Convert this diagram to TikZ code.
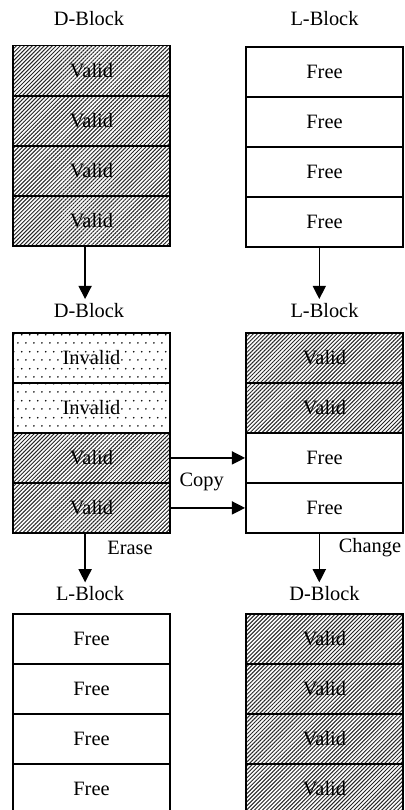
\documentclass[tikz,border=0pt]{standalone}
\usepackage{fontspec}
\setmainfont{Liberation Serif}
\usetikzlibrary{patterns.meta,arrows.meta}
\pgfdeclarepattern{
	name=sparsedots, type=uncolored,
	bottom left={\pgfpoint{0pt}{0pt}}, top right={\pgfpoint{5.9pt}{11.8pt}},
	tile size={\pgfpoint{5.9pt}{11.8pt}},
	code={
		\pgfpathcircle{\pgfpoint{1.475pt}{1.475pt}}{0.65pt}
		\pgfpathcircle{\pgfpoint{4.425pt}{7.375pt}}{0.65pt}
		\pgfusepath{fill}
	}
}
\tikzset{
	cell/.style={draw, line width=1.3pt, minimum width=3.925cm, minimum height=1.25cm, anchor=north, inner sep=0pt},
	validcell/.style={cell, pattern={Lines[angle=45,distance=2pt,line width=0.7pt]}, pattern color=black!85},
	invalidcell/.style={cell, pattern=sparsedots, pattern color=black},
	freecell/.style={cell, fill=white},
	blocklabel/.style={inner sep=3pt},
	flow/.style={-{Triangle[length=3.3mm,width=3.3mm]}, line width=0.9pt}
}
\begin{document}
\begin{tikzpicture}[x=0.025cm, y=-0.025cm, font=\fontsize{14.5}{17}\selectfont]
	\useasboundingbox (0,0) rectangle (404,810);
	% block titles
	\node[blocklabel] (A0) at (89,19) {D-Block};
	\node[blocklabel] (B0) at (324.5,19) {L-Block};
	\node[blocklabel] (C0) at (89,310.7) {D-Block};
	\node[blocklabel] (D0) at (324.5,310.7) {L-Block};
	\node[blocklabel] (E0) at (90,594) {L-Block};
	\node[blocklabel] (F0) at (324.5,594) {D-Block};
	% pages
	\foreach \i in {1,...,4}{
		\node[validcell] (A\i) at (91.5,{45+50*(\i-1)}) {Valid};
		\node[freecell] (B\i) at (324.5,{46+50*(\i-1)}) {Free};
		\node[freecell] (E\i) at (91.5,{613+50*(\i-1)}) {Free};
		\node[validcell] (F\i) at (324.5,{613+50*(\i-1)}) {Valid};
	}
	\foreach \s/\t [count=\i] in {invalidcell/Invalid,invalidcell/Invalid,validcell/Valid,validcell/Valid}
		\node[\s] (C\i) at (91.5,{332+50*(\i-1)}) {\t};
	\foreach \s/\t [count=\i] in {validcell/Valid,validcell/Valid,freecell/Free,freecell/Free}
		\node[\s] (D\i) at (324.5,{332+50*(\i-1)}) {\t};
	% arrows
	\draw[flow] ([xshift=-1.6mm]A4.south) -- ([xshift=-1.6mm]A4.south |- C0.north);
	\draw[flow] ([xshift=-1.3mm]B4.south) -- ([xshift=-1.3mm]B4.south |- D0.north);
	\draw[flow] (C3.east) -- (D3.west);
	\draw[flow] (C4.east) -- (D4.west);
	\node (copy) at (201.7,481.7) {Copy};
	\draw[flow] ([xshift=-1.6mm]C4.south) -- ([xshift=-1.6mm]C4.south |- E0.north);
	\draw[flow] ([xshift=-1.3mm]D4.south) -- ([xshift=-1.3mm]D4.south |- F0.north);
	\node (erase) at (130,548) {Erase};
	\node (change) at (370,548) {Change};
\end{tikzpicture}
\end{document}
